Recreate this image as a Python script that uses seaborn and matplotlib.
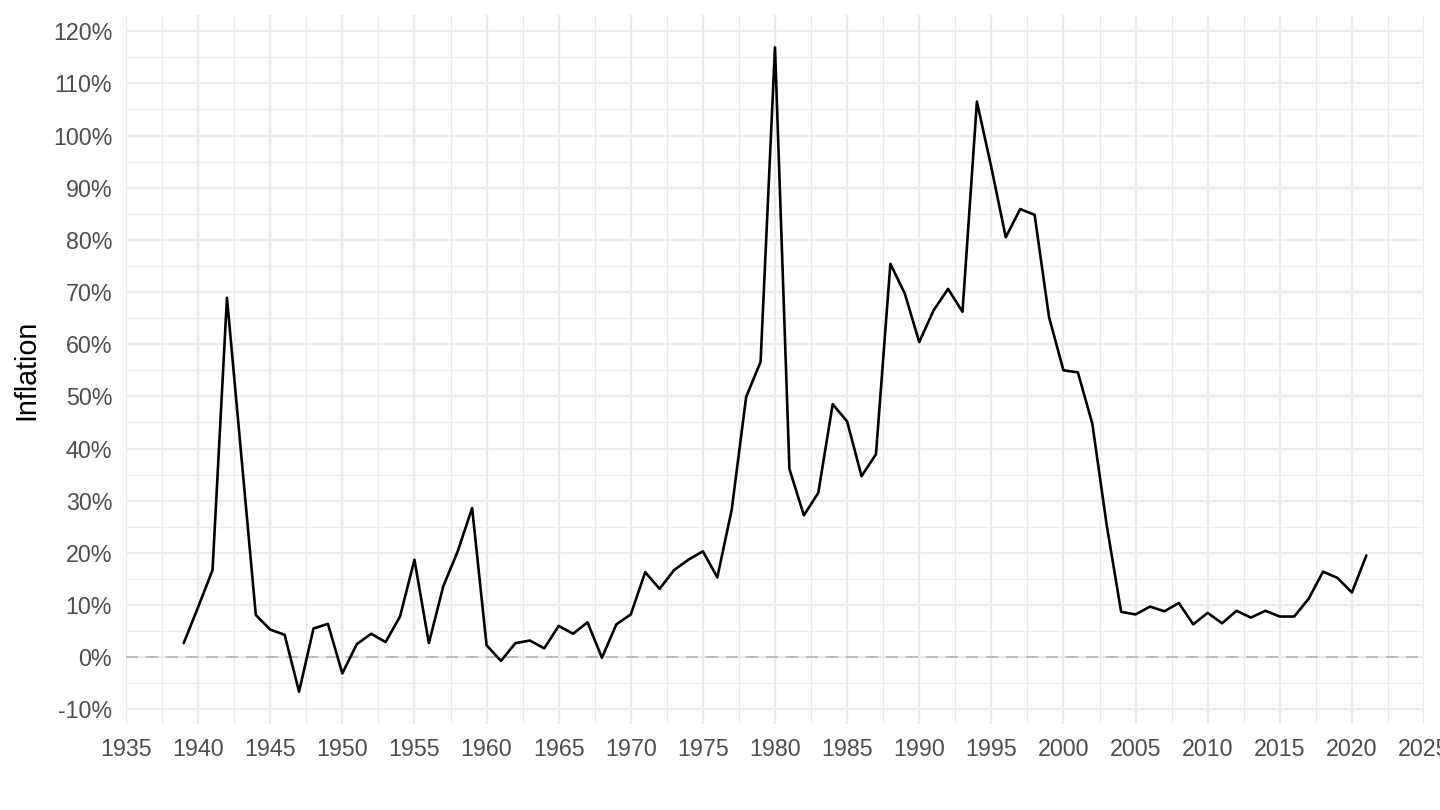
import numpy as np
import pandas as pd
import matplotlib
matplotlib.use('Agg')
import matplotlib.pyplot as plt
from matplotlib.ticker import FixedLocator, FuncFormatter
import seaborn as sns

# annual inflation (percent)
years = list(range(1939, 2022))
inflation = [2.7, 9.6, 16.7, 68.9, 38.5, 8.1, 5.3, 4.3, -6.6, 5.5,
             6.4, -3.1, 2.5, 4.5, 2.9, 7.8, 18.7, 2.7, 13.6, 20.3,
             28.6, 2.3, -0.7, 2.7, 3.2, 1.7, 6.0, 4.5, 6.7, -0.1,
             6.3, 8.2, 16.3, 13.1, 16.7, 18.7, 20.3, 15.3, 28.3, 49.9,
             56.6, 116.9, 36.1, 27.2, 31.5, 48.5, 45.2, 34.7, 38.9, 75.4,
             69.7, 60.4, 66.5, 70.6, 66.2, 106.5, 93.9, 80.5, 85.9, 84.8,
             65.2, 55.0, 54.6, 44.8, 25.3, 8.7, 8.2, 9.7, 8.8, 10.4,
             6.3, 8.5, 6.5, 8.9, 7.6, 8.9, 7.8, 7.8, 11.2, 16.4,
             15.2, 12.4, 19.5]

x_ticks = list(range(1935, 2026, 5))
y_ticks = list(range(-10, 121, 10))

df = pd.DataFrame({'year': years, 'inflation': inflation})

sns.set_style('white')
plt.rcParams['font.family'] = ['Liberation Sans', 'DejaVu Sans']

fig = plt.figure(figsize=(8, 4.5), dpi=180)
ax = fig.add_axes([126 / 1440, 1 - 724 / 810, (1424 - 126) / 1440, (724 - 15) / 810])

# grid like theme_minimal
ax.set_axisbelow(True)
ax.xaxis.set_major_locator(FixedLocator(x_ticks))
ax.xaxis.set_minor_locator(FixedLocator(np.arange(1937.5, 2025, 5)))
ax.yaxis.set_major_locator(FixedLocator(y_ticks))
ax.yaxis.set_minor_locator(FixedLocator(np.arange(-5, 120, 10)))
ax.grid(which='major', color='#EBEBEB', linewidth=0.95)
ax.grid(which='minor', color='#EBEBEB', linewidth=0.5)

ax.axhline(0, color='#BEBEBE', linewidth=0.8, linestyle=(0, (6, 4)), zorder=1.5)

sns.lineplot(data=df, x='year', y='inflation', color='black', linewidth=1.05, ax=ax, zorder=3)

ax.set_xlim(1935, 2025)
ax.set_ylim(-12.8, 123.1)
ax.yaxis.set_major_formatter(FuncFormatter(lambda v, p: f'{v:.0f}%'))

for s in ax.spines.values():
    s.set_visible(False)
ax.tick_params(which='both', length=0, labelsize=9.3, labelcolor='#4D4D4D', pad=5.5)

ax.set_xlabel('')
ax.set_ylabel('Inflation', fontsize=11.5, color='black')
ax.yaxis.set_label_coords(-0.066, 0.5)

fig.savefig('out.png', dpi=180)
